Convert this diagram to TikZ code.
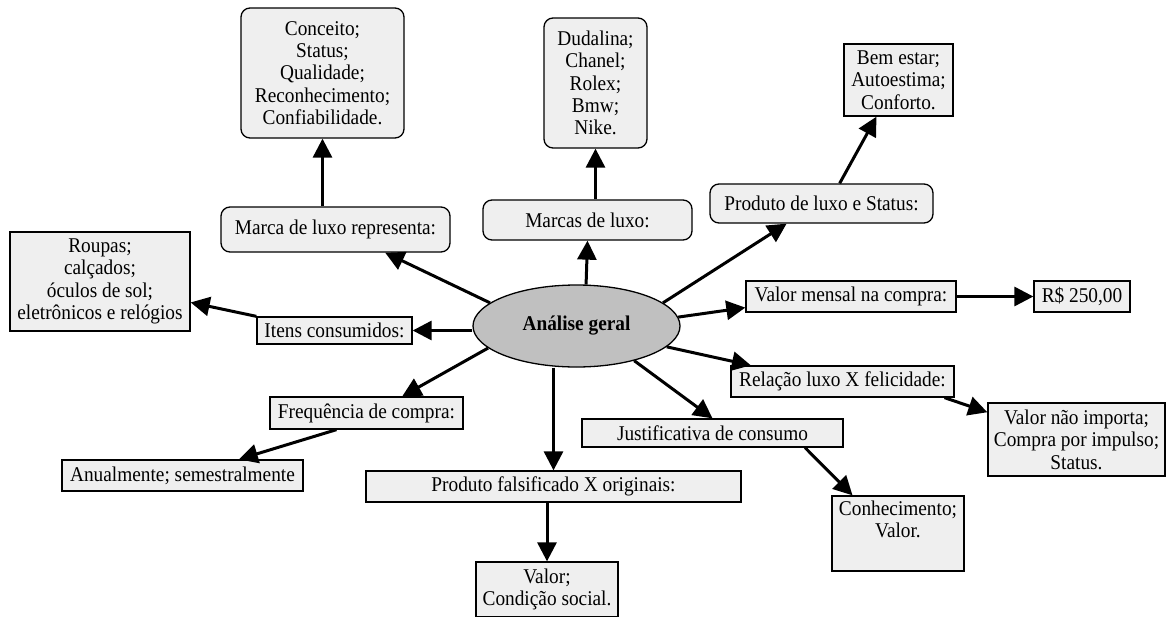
\documentclass[tikz,border=0pt]{standalone}
\usepackage{fontspec}
\setmainfont{Liberation Serif}[FakeStretch=0.92]
\usetikzlibrary{arrows.meta, shapes.geometric}
\definecolor{boxgray}{HTML}{EFEFEF}
\definecolor{topicgray}{HTML}{C0C0C0}
\tikzset{%
	topic/.style={draw, ellipse, fill=topicgray, inner sep=0pt,%
		font=\fontsize{21}{22.4}\selectfont\bfseries},
	rbox/.style={draw, rectangle, rounded corners=9pt, fill=boxgray, align=center,%
		inner sep=0pt, font=\fontsize{21}{22.4}\selectfont},
	sbox/.style={draw, rectangle, fill=boxgray, align=center, inner sep=0pt,%
		font=\fontsize{21}{22.4}\selectfont},
	sel/.style={-{Triangle[length=19pt, width=19pt]}, line width=3pt}
}
\begin{document}
\begin{tikzpicture}[x=1pt, y=-1pt, line width=1.3pt]
		\useasboundingbox (0,0) rectangle (1167,616);
		\node[topic, minimum width=207pt, minimum height=82pt] (ana) at (576.5,326) {Análise geral};
		\node[rbox, minimum width=163pt, minimum height=130pt] (ana-rep-top) at (322.5,73) {Conceito;\\Status;\\Qualidade;\\Reconhecimento;\\Confiabilidade.};
		\node[rbox, minimum width=229pt, minimum height=45pt] (ana-rep) at (335.5,229.5) {Marca de luxo representa:};
		\node[rbox, minimum width=103pt, minimum height=130pt] (ana-marcas-top) at (595.5,83) {Dudalina;\\Chanel;\\Rolex;\\Bmw;\\Nike.};
		\node[rbox, minimum width=209pt, minimum height=40pt] (ana-marcas) at (587.5,220) {Marcas de luxo:};
		\node[sbox, minimum width=109pt, minimum height=72pt] (ana-status-top) at (898.5,80) {Bem estar;\\Autoestima;\\Conforto.};
		\node[rbox, minimum width=223pt, minimum height=39pt] (ana-status) at (821.5,203.5) {Produto de luxo e Status:};
		\node[sbox, minimum width=210pt, minimum height=31pt] (ana-mensal) at (851,296.5) {Valor mensal na compra:};
		\node[sbox, minimum width=96pt, minimum height=31pt] (ana-mensal-r) at (1082,296.5) {R\$ 250,00};
		\node[sbox, minimum width=180pt, minimum height=99pt] (ana-itens-l) at (100,281.5) {Roupas;\\calçados;\\óculos de sol;\\eletrônicos e relógios};
		\node[sbox, minimum width=155pt, minimum height=27pt] (ana-itens) at (334.5,330.5) {Itens consumidos:};
		\node[sbox, minimum width=193pt, minimum height=32pt] (ana-freq) at (366.5,413) {Frequência de compra:};
		\node[sbox, minimum width=241pt, minimum height=31pt] (ana-freq-l) at (182.5,475.5) {Anualmente; semestralmente};
		\node[sbox, minimum width=375pt, minimum height=31pt] (ana-fals) at (553.5,486.5) {Produto falsificado X originais:};
		\node[sbox, minimum width=142pt, minimum height=55pt] (ana-fals-b) at (547,589.5) {Valor;\\Condição social.};
		\node[sbox, minimum width=261pt, minimum height=28pt] (ana-just) at (712.5,433) {Justificativa de consumo};
		\node[sbox, minimum width=132pt, minimum height=75pt] (ana-just-r) at (898,533.5) {Conhecimento;\\Valor.\\\strut};
		\node[sbox, minimum width=223pt, minimum height=31pt] (ana-rel) at (842.5,381.5) {Relação luxo X felicidade:};
		\node[sbox, minimum width=177pt, minimum height=73pt] (ana-rel-r) at (1076.5,439.5) {Valor não importa;\\Compra por impulso;\\Status.};
		\draw [sel] (ana.165) -- (ana-rep.-25);
		\draw [sel] (ana-rep-top.south |- ana-rep.north) -- (ana-rep-top.south);
		\draw [sel] (ana.77) -- (ana-marcas.south);
		\draw [sel] (ana-marcas-top.south |- ana-marcas.north) -- (ana-marcas-top.south);
		\draw [sel] (ana.15) -- (ana-status.-150);
		\draw [sel] (ana-status.48) -- (ana-status-top.-121);
		\draw [sel] (ana.5) -- (ana-mensal.186);
		\draw [sel] (ana-mensal) -- (ana-mensal-r);
		\draw [sel] (ana-itens.east -| ana.west) -- (ana-itens.east);
		\draw [sel] (ana-itens.north west) -- (ana-itens-l.-13);
		\draw [sel] (ana.194) -- (ana-freq.25);
		\draw [sel] (ana-freq.-151) -- (ana-freq-l.16);
		\draw [sel] (ana-fals.north |- ana.south) -- (ana-fals.north);
		\draw [sel] (ana-fals.south -| ana-fals-b.north) -- (ana-fals-b.north);
		\draw [sel] (ana.-31) -- (ana-just.north);
		\draw [sel] (ana-just.-9) -- (ana-just-r.140);
		\draw [sel] (ana.-13) -- (ana-rel.170);
		\draw [sel] (ana-rel.-9) -- (ana-rel-r.163);
	\end{tikzpicture}
\end{document}
